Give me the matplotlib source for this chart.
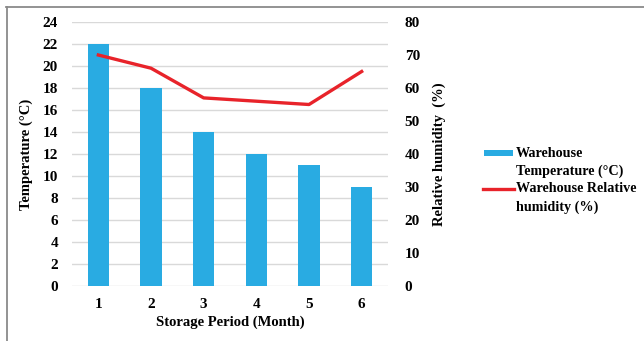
import matplotlib
matplotlib.use("Agg")
import matplotlib.pyplot as plt
from matplotlib.patches import Rectangle
from matplotlib.lines import Line2D

months = ["1", "2", "3", "4", "5", "6"]
temperature = [22, 18, 14, 12, 11, 9]
humidity = [70, 66, 57, 56, 55, 65]

plt.rcParams["font.family"] = ["Liberation Serif", "DejaVu Serif"]
plt.rcParams["font.weight"] = "bold"

BLUE = "#29ABE2"
RED = "#E8232A"
W, H = 644, 341

fig = plt.figure(figsize=(W / 100, H / 100), dpi=100)

# frame lines along the top and left edges
fig.add_artist(Line2D([6 / W, 1.0], [1 - 6.5 / H, 1 - 6.5 / H], transform=fig.transFigure,
                      color="#8A8A8A", linewidth=1.3))
fig.add_artist(Line2D([6.5 / W, 6.5 / W], [0.0, 1 - 6.5 / H], transform=fig.transFigure,
                      color="#8A8A8A", linewidth=1.3))

ax = fig.add_axes([72 / W, 1 - 286 / H, 316 / W, 264 / H])
x = list(range(len(months)))
ax.bar(x, temperature, width=0.4, color=BLUE, zorder=3)
ax.set_xlim(-0.5, 5.5)
ax.set_ylim(0, 24)
ax.set_yticks(range(0, 25, 2))
ax.set_xticks(x)
ax.set_xticklabels(months)
ax.grid(axis="y", color="#D9D9D9", linewidth=1.0, zorder=0)
ax.set_axisbelow(True)
for s in ax.spines.values():
    s.set_visible(False)
ax.tick_params(length=0, labelsize=11, pad=10)
ax.tick_params(axis="x", pad=9)
ax.set_ylabel("Temperature (°C)", fontsize=10.5, fontweight="bold", labelpad=7)
ax.set_xlabel("Storage Period (Month)", fontsize=10.5, fontweight="bold", labelpad=3)

ax2 = ax.twinx()
ax2.plot(x, humidity, color=RED, linewidth=2.4, zorder=4)
ax2.set_ylim(0, 80)
ax2.set_yticks(range(0, 81, 10))
for s in ax2.spines.values():
    s.set_visible(False)
ax2.tick_params(length=0, labelsize=11, pad=12)
ax2.set_ylabel("Relative humidity  (%)", fontsize=10.5, fontweight="bold", labelpad=9)

# legend, with each key aligned to the first line of its label
fx = lambda px: px / W
fy = lambda py: 1 - py / H
fig.add_artist(Rectangle((fx(484), fy(156)), fx(513) - fx(484), 6 / H,
                         transform=fig.transFigure, facecolor=BLUE, edgecolor="none"))
fig.add_artist(Line2D([fx(483), fx(514)], [fy(189), fy(189)], transform=fig.transFigure,
                      color=RED, linewidth=2.4))
legend_lines = [("Warehouse", 153), ("Temperature (°C)", 171),
                ("Warehouse Relative", 189), ("humidity (%)", 207)]
for txt, py in legend_lines:
    fig.text(fx(516), fy(py), txt, fontsize=10.2, fontweight="bold", va="center", ha="left")

fig.savefig("out.png", dpi=100)
